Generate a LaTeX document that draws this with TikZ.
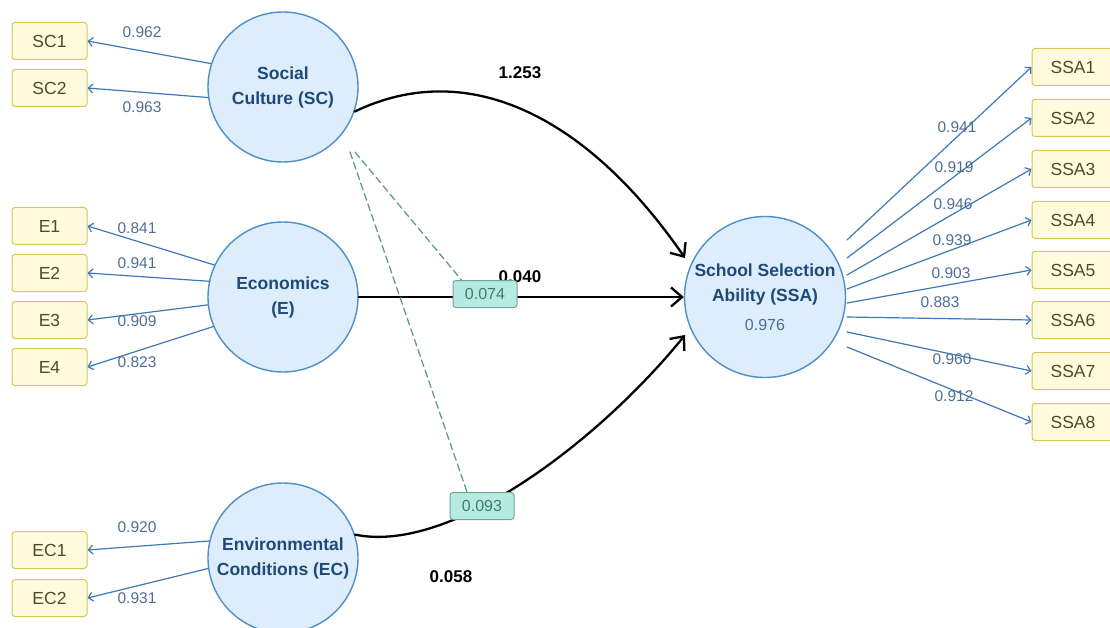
\documentclass[tikz,border=0pt]{standalone}
\usepackage{fontspec}
\setmainfont{Liberation Sans}
\usetikzlibrary{arrows.meta,calc}
\definecolor{circFill}{HTML}{DDEDFC}
\definecolor{circDraw}{HTML}{4F8ECB}
\definecolor{circText}{HTML}{1F4A78}
\definecolor{boxFill}{HTML}{FFFBDC}
\definecolor{boxDraw}{HTML}{D3C85A}
\definecolor{boxText}{HTML}{4F4B22}
\definecolor{loadLine}{HTML}{3C79B6}
\definecolor{loadText}{HTML}{4D6F94}
\definecolor{modFill}{HTML}{B7EBE2}
\definecolor{modDraw}{HTML}{6DA79E}
\definecolor{modText}{HTML}{3B7D6E}
\definecolor{modLine}{HTML}{5F9C8C}
\begin{document}
\begin{tikzpicture}[x=1pt,y=-1pt,line join=round,line cap=round,
	latent/.style={circle,draw=circDraw,fill=circFill,line width=1.4pt,minimum size=150pt,inner sep=0pt,align=center,text=circText,font=\fontsize{17.5}{25}\selectfont\bfseries},
	indic/.style={rectangle,rounded corners=3pt,draw=boxDraw,fill=boxFill,line width=1pt,minimum width=75pt,minimum height=37pt,text=boxText,font=\fontsize{17.5}{20}\selectfont},
	load/.style={draw=loadLine,line width=1.2pt,-{Straight Barb[length=4.5pt,width=9pt]}},
	loadlab/.style={text=loadText,font=\fontsize{15.5}{18}\selectfont,inner sep=0pt},
	effect/.style={draw=black,line width=2.3pt,-{Straight Barb[length=11pt,width=19pt]}},
	coef/.style={font=\fontsize{17}{20}\selectfont\bfseries,inner sep=0pt},
	modbox/.style={rectangle,rounded corners=3pt,draw=modDraw,fill=modFill,line width=1pt,minimum width=64pt,minimum height=27pt,inner sep=0pt,text=modText,font=\fontsize{16}{19}\selectfont},
	modline/.style={draw=modLine,line width=1.3pt,dash pattern=on 7pt off 4pt}]
	\useasboundingbox (0,0) rectangle (1110,628);
	% bien tiem an
	\node[latent] (SC) at (283,87) {Social\\Culture (SC)};
	\node[latent] (E) at (283,297) {Economics\\(E)};
	\node[latent] (EC) at (283,558) {Environmental\\Conditions (EC)};
	\node[latent,minimum size=161pt] (SSA) at (765,297) {School Selection\\Ability (SSA)\\[4pt]{\mdseries\color{loadText}\fontsize{16}{19}\selectfont 0.976}};
	% bien quan sat ben trai
	\node[indic] (SC1) at (49.5,41) {SC1};
	\node[indic] (SC2) at (49.5,88) {SC2};
	\node[indic] (E1) at (49.5,226) {E1};
	\node[indic] (E2) at (49.5,273) {E2};
	\node[indic] (E3) at (49.5,320) {E3};
	\node[indic] (E4) at (49.5,367) {E4};
	\node[indic] (EC1) at (49.5,550) {EC1};
	\node[indic] (EC2) at (49.5,598) {EC2};
	% bien quan sat ben phai
	\node[indic,minimum width=82pt] (SSA1) at (1073,67) {SSA1};
	\node[indic,minimum width=82pt] (SSA2) at (1073,118) {SSA2};
	\node[indic,minimum width=82pt] (SSA3) at (1073,169) {SSA3};
	\node[indic,minimum width=82pt] (SSA4) at (1073,220) {SSA4};
	\node[indic,minimum width=82pt] (SSA5) at (1073,270) {SSA5};
	\node[indic,minimum width=82pt] (SSA6) at (1073,320) {SSA6};
	\node[indic,minimum width=82pt] (SSA7) at (1073,371) {SSA7};
	\node[indic,minimum width=82pt] (SSA8) at (1073,422) {SSA8};
	% he so tai
	\draw[load] (SC.162)--(SC1.east);
	\draw[load] (SC.188)--(SC2.east);
	\draw[load] (E.155)--(E1.east);
	\draw[load] (E.168)--(E2.east);
	\draw[load] (E.186)--(E3.east);
	\draw[load] (E.203)--(E4.east);
	\draw[load] (EC.167)--(EC1.east);
	\draw[load] (EC.188)--(EC2.east);
	\draw[load] ($(SSA.center)+(82,-57)$)--(SSA1.west);
	\draw[load] ($(SSA.center)+(82,-39)$)--(SSA2.west);
	\draw[load] ($(SSA.center)+(82,-22)$)--(SSA3.west);
	\draw[load] ($(SSA.center)+(82,-8)$)--(SSA4.west);
	\draw[load] ($(SSA.center)+(82,6)$)--(SSA5.west);
	\draw[load] ($(SSA.center)+(82,20)$)--(SSA6.west);
	\draw[load] ($(SSA.center)+(82,35)$)--(SSA7.west);
	\draw[load] ($(SSA.center)+(82,50)$)--(SSA8.west);
	\node[loadlab] (lSC1) at (142,32) {0.962};
	\node[loadlab] (lSC2) at (142,107) {0.963};
	\node[loadlab] (lE1) at (137,228) {0.841};
	\node[loadlab] (lE2) at (137,263) {0.941};
	\node[loadlab] (lE3) at (137,321) {0.909};
	\node[loadlab] (lE4) at (137,362) {0.823};
	\node[loadlab] (lEC1) at (137,527) {0.920};
	\node[loadlab] (lEC2) at (137,598) {0.931};
	\node[loadlab] (lSSA1) at (957,127) {0.941};
	\node[loadlab] (lSSA2) at (954,167) {0.919};
	\node[loadlab] (lSSA3) at (953,204) {0.946};
	\node[loadlab] (lSSA4) at (952,240) {0.939};
	\node[loadlab] (lSSA5) at (951,273) {0.903};
	\node[loadlab] (lSSA6) at (940,302) {0.883};
	\node[loadlab] (lSSA7) at (952,359) {0.960};
	\node[loadlab] (lSSA8) at (954,396) {0.912};
	% duong tac dong
	\coordinate (t1) at ($(SSA.center)+(-80,-39)$);
	\coordinate (t3) at ($(SSA.center)+(-80,38)$);
	\draw[effect] (SC.-19) .. controls +(116,-56) and +(-95,-138) .. (t1);
	\draw[effect] (E.east)--(SSA.west);
	\draw[effect] (EC.18) .. controls +(96,20) and +(-85,105) .. (t3);
	\node[coef] (c1) at (520,73) {1.253};
	\node[coef] (c2) at (520,277) {0.040};
	\node[coef] (c3) at (451,577) {0.058};
	% tac dong dieu tiet
	\coordinate (s1) at (355,152);
	\coordinate (s2) at (350,152);
	\node[modbox] (m1) at (485,294) {0.074};
	\node[modbox] (m2) at (482,506) {0.093};
	\draw[modline] (s1)--([xshift=9pt]m1.north west);
	\draw[modline] (s2)--([xshift=-15pt]m2.north);
\end{tikzpicture}
\end{document}
